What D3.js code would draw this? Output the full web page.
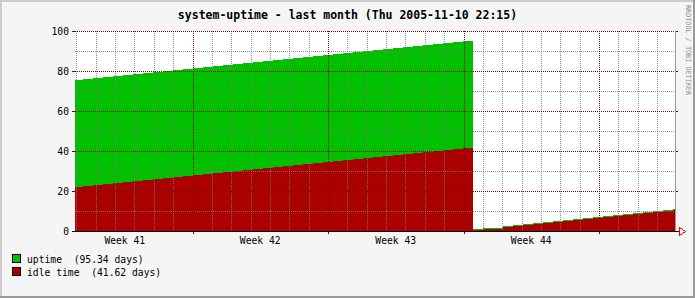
<!DOCTYPE html>
<html>
<head>
<meta charset="utf-8">
<script src="https://cdn.jsdelivr.net/npm/d3@7"></script>
<style>
  body { margin: 0; background: #fff; }
  text { font-family: "DejaVu Sans Mono", monospace; }
</style>
</head>
<body>
<svg id="chart"></svg>
<script>
// graph window and consolidated samples (about 12.4 h each)
const rangeStart = "2005-10-10 22:15";
const rangeEnd = "2005-11-10 22:15";
const firstSample = "2005-10-10 20:00";
const stepHours = 12.4;

// uptime in days
const uptime = [
  75.6, 76.1, 76.6, 77.1, 77.6, 78.1, 78.6, 79.1, 79.6, 80.1,
  80.6, 81.0, 81.5, 82.0, 82.5, 83.0, 83.5, 84.0, 84.5, 85.0,
  85.5, 86.0, 86.5, 87.0, 87.5, 88.0, 88.5, 89.0, 89.5, 90.0,
  90.5, 91.0, 91.5, 92.0, 92.5, 93.0, 93.5, 94.0, 94.5, 95.1,
  0.8, 1.3, 1.7, 2.3, 2.8, 3.3, 3.8, 4.3, 4.8, 5.3,
  5.8, 6.3, 6.8, 7.3, 7.8, 8.3, 8.8, 9.3, 9.8, 10.3, 10.8
];

// idle time in days
const idle = [
  22.0, 22.5, 23.0, 23.7, 24.2, 24.7, 25.0, 25.5, 26.0, 26.5,
  27.0, 27.5, 28.0, 28.5, 29.0, 29.5, 30.0, 30.5, 31.0, 31.5,
  32.0, 32.5, 33.0, 33.4, 33.9, 34.4, 34.9, 35.4, 35.9, 36.4,
  36.9, 37.4, 37.9, 38.4, 38.9, 39.4, 39.9, 40.4, 40.9, 41.6,
  0.3, 0.8, 1.2, 1.8, 2.3, 2.8, 3.3, 3.8, 4.3, 4.8,
  5.3, 5.8, 6.3, 6.8, 7.3, 7.8, 8.3, 8.8, 9.3, 9.8, 10.3
];

const yTicks = [0, 20, 40, 60, 80, 100];
const yMinor = [10, 30, 50, 70, 90];
const weekLabels = ["Week 41", "Week 42", "Week 43", "Week 44"];
const legendItems = ["uptime  (95.34 days)", "idle time  (41.62 days)"];
const title = "system-uptime - last month (Thu 2005-11-10 22:15)";
const watermark = "RRDTOOL / TOBI OETIKER";

const W = 695, H = 298;
const margin = { top: 31, right: 20, bottom: 67, left: 75 };
const colors = { uptime: "#00c000", idle: "#aa0000", back: "#f5f5f5" };

const parse = d3.timeParse("%Y-%m-%d %H:%M");
const t0 = parse(rangeStart), t1 = parse(rangeEnd), s0 = parse(firstSample);
const sampleTime = i => new Date(s0.getTime() + i * stepHours * 3600e3);

const svg = d3.select("#chart").attr("width", W).attr("height", H);

// background + 3d frame
svg.append("rect").attr("width", W).attr("height", H).attr("fill", colors.back);
svg.append("rect").attr("width", W).attr("height", 2).attr("fill", "#cbcbcb");
svg.append("rect").attr("width", 2).attr("height", H).attr("fill", "#cbcbcb");
svg.append("rect").attr("y", H - 2).attr("width", W).attr("height", 2).attr("fill", "#999");
svg.append("rect").attr("x", W - 2).attr("width", 2).attr("height", H).attr("fill", "#999");

const x = d3.scaleTime().domain([t0, t1]).range([margin.left, W - margin.right]);
const y = d3.scaleLinear().domain([0, 100]).range([H - margin.bottom, margin.top]);

const x0 = x.range()[0], x1 = x.range()[1];
const yb = y(0), yt = y(100);

// canvas
svg.append("rect")
    .attr("x", x0).attr("y", yt)
    .attr("width", x1 - x0).attr("height", yb - yt)
    .attr("fill", "#fff");

svg.append("clipPath").attr("id", "plot")
  .append("rect")
    .attr("x", x0).attr("y", yt)
    .attr("width", x1 - x0).attr("height", yb - yt);

function series(vals) {
  const pts = vals.map((v, i) => ({ t: sampleTime(i), v: v }));
  pts.push({ t: sampleTime(vals.length), v: vals[vals.length - 1] });
  return pts;
}

const area = d3.area()
    .x(d => x(d.t))
    .y0(yb)
    .y1(d => y(d.v))
    .curve(d3.curveStepAfter);

const plot = svg.append("g").attr("clip-path", "url(#plot)");
plot.append("path").attr("d", area(series(uptime))).attr("fill", colors.uptime)
    .attr("shape-rendering", "crispEdges");
plot.append("path").attr("d", area(series(idle))).attr("fill", colors.idle)
    .attr("shape-rendering", "crispEdges");

// grid
const grid = svg.append("g").attr("shape-rendering", "crispEdges")
    .attr("stroke-dasharray", "1,1").attr("fill", "none");

const mondays = d3.timeMonday.range(t0, t1);
const days = d3.timeDay.range(t0, t1).filter(d => d.getDay() !== 1);
const px = v => Math.round(v) + 0.5;

grid.selectAll(".vminor").data(days).join("line")
    .attr("x1", d => px(x(d))).attr("x2", d => px(x(d)))
    .attr("y1", yt).attr("y2", yb)
    .attr("stroke", "#7a7a7a").attr("stroke-opacity", 0.85);

grid.selectAll(".hminor").data(yMinor).join("line")
    .attr("x1", x0).attr("x2", x1)
    .attr("y1", d => px(y(d))).attr("y2", d => px(y(d)))
    .attr("stroke", "#7a7a7a").attr("stroke-opacity", 0.85);

grid.selectAll(".vmajor").data(mondays).join("line")
    .attr("x1", d => px(x(d))).attr("x2", d => px(x(d)))
    .attr("y1", yt).attr("y2", yb)
    .attr("stroke", "#8a0000");

grid.selectAll(".hmajor").data(yTicks.filter(d => d > 0)).join("line")
    .attr("x1", x0).attr("x2", x1)
    .attr("y1", d => px(y(d))).attr("y2", d => px(y(d)))
    .attr("stroke", "#8a0000");

// ticks and axis lines
const axes = svg.append("g").attr("shape-rendering", "crispEdges");

axes.selectAll(".ytick").data(yTicks.filter(d => d > 0)).join("path")
    .attr("d", d => `M${x0 - 3},${px(y(d))}H${x0}M${x1},${px(y(d))}H${x1 + 3}`)
    .attr("stroke", "#800000");

axes.selectAll(".xtick").data(mondays).join("line")
    .attr("x1", d => px(x(d))).attr("x2", d => px(x(d)))
    .attr("y1", yb).attr("y2", yb + 3)
    .attr("stroke", "#800000");

axes.append("line")
    .attr("x1", px(x1)).attr("x2", px(x1))
    .attr("y1", yt).attr("y2", yb)
    .attr("stroke", "#999");

axes.append("line")
    .attr("x1", x0 - 3).attr("x2", x1 + 5)
    .attr("y1", yb + 0.5).attr("y2", yb + 0.5)
    .attr("stroke", "#000");

// arrow at the end of the time axis
svg.append("path")
    .attr("d", `M${x1 + 4.5},${yb - 3.5}V${yb + 4.5}L${x1 + 10.5},${yb + 0.5}Z`)
    .attr("fill", "none").attr("stroke", "#ff0000")
    .attr("shape-rendering", "crispEdges");

// y labels
svg.selectAll(".ylab").data(yTicks).join("text")
    .attr("x", x0 - 6).attr("y", d => y(d) + 3.5)
    .attr("text-anchor", "end")
    .attr("font-size", "9.7px")
    .text(d => d);

// week labels, centred in the middle of each week
const firstMonday = d3.timeMonday.floor(t0);
svg.selectAll(".xlab").data(weekLabels).join("text")
    .attr("x", (d, i) => x(d3.timeHour.offset(d3.timeWeek.offset(firstMonday, i), 84)))
    .attr("y", yb + 13)
    .attr("text-anchor", "middle")
    .attr("font-size", "9.7px")
    .text(d => d);

// title
svg.append("text")
    .attr("x", W / 2).attr("y", 18.5)
    .attr("text-anchor", "middle")
    .attr("font-size", "11.5px").attr("font-weight", "bold")
    .text(title);

// legend
const legend = svg.append("g");
const legendColors = [colors.uptime, colors.idle];
legendItems.forEach((label, i) => {
  const ly = 254.5 + i * 13;
  legend.append("rect")
      .attr("x", 12.5).attr("y", ly)
      .attr("width", 8).attr("height", 8)
      .attr("fill", legendColors[i]).attr("stroke", "#000")
      .attr("shape-rendering", "crispEdges");
  legend.append("text")
      .attr("x", 27).attr("y", ly + 8)
      .attr("font-size", "9.7px")
      .attr("xml:space", "preserve")
      .style("white-space", "pre")
      .text(label);
});

// vertical watermark
svg.append("text")
    .attr("transform", "translate(686,5) rotate(90)")
    .attr("font-size", "6.8px")
    .attr("fill", "#8c8c8c")
    .text(watermark);
</script>
</body>
</html>
